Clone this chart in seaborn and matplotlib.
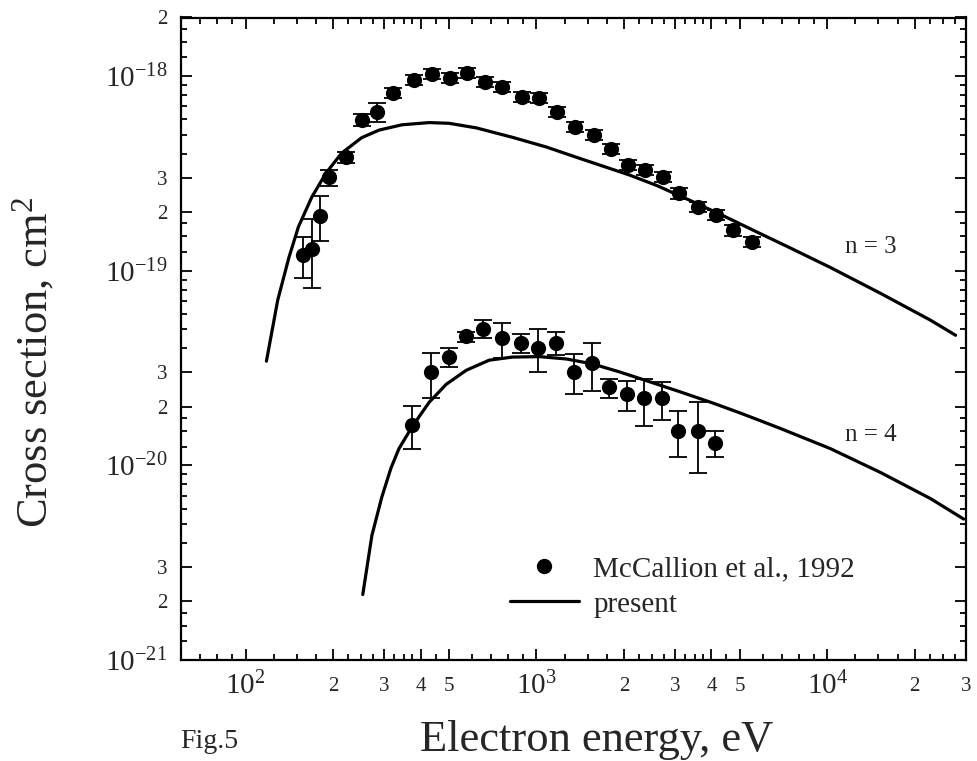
import numpy as np
import pandas as pd
import matplotlib
matplotlib.use("Agg")
import matplotlib.pyplot as plt
import seaborn as sns
from matplotlib.lines import Line2D
from matplotlib.ticker import FixedLocator, NullFormatter

# ---------------- data ----------------
# present theory, n = 3
n3_curve_energy = [118, 129, 141, 152, 169, 189, 214, 251, 288, 345, 428, 501, 621,
                   826, 1083, 1407, 2093, 2594, 3370, 4379, 5736, 7456, 10240, 15230,
                   22650, 27630]
n3_curve_sigma = [3.43e-20, 7.05e-20, 1.17e-19, 1.68e-19, 2.39e-19, 3.17e-19, 4.02e-19,
                  4.83e-19, 5.28e-19, 5.62e-19, 5.77e-19, 5.72e-19, 5.42e-19, 4.85e-19,
                  4.32e-19, 3.78e-19, 3.10e-19, 2.74e-19, 2.30e-19, 1.92e-19, 1.58e-19,
                  1.31e-19, 1.04e-19, 7.66e-20, 5.57e-20, 4.66e-20]

# present theory, n = 4
n4_curve_energy = [253, 272, 294, 316, 337, 374, 428, 490, 574, 688, 826, 1024, 1269,
                   1560, 1933, 2395, 3112, 4045, 5012, 6884, 10240, 15230, 22650, 29440]
n4_curve_sigma = [2.17e-21, 4.37e-21, 6.85e-21, 9.65e-21, 1.22e-20, 1.58e-20, 2.11e-20,
                  2.61e-20, 3.08e-20, 3.47e-20, 3.60e-20, 3.62e-20, 3.52e-20, 3.32e-20,
                  3.02e-20, 2.72e-20, 2.39e-20, 2.09e-20, 1.86e-20, 1.55e-20, 1.22e-20,
                  9.20e-21, 6.75e-21, 5.30e-21]

# McCallion et al., 1992 measurements, n = 3
n3_energy = [158, 169, 181, 193, 221, 251, 283, 321, 380, 438, 505, 578, 667, 763, 895,
             1024, 1181, 1363, 1573, 1800, 2060, 2357, 2720, 3088, 3592, 4142, 4742, 5512]
n3_sigma = [1.20e-19, 1.30e-19, 1.91e-19, 3.03e-19, 3.84e-19, 5.94e-19, 6.53e-19, 8.18e-19,
            9.54e-19, 1.024e-18, 9.76e-19, 1.036e-18, 9.32e-19, 8.78e-19, 7.80e-19,
            7.70e-19, 6.53e-19, 5.47e-19, 4.97e-19, 4.21e-19, 3.49e-19, 3.29e-19,
            3.03e-19, 2.50e-19, 2.12e-19, 1.93e-19, 1.61e-19, 1.40e-19]
n3_low = [9.15e-20, 8.13e-20, 1.42e-19, 2.72e-19, 3.57e-19, 5.53e-19, 5.80e-19, 7.70e-19,
          9.00e-19, 9.65e-19, 9.20e-19, 9.75e-19, 8.80e-19, 8.25e-19, 7.35e-19, 7.25e-19,
          6.15e-19, 5.15e-19, 4.68e-19, 3.96e-19, 3.28e-19, 3.10e-19, 2.85e-19, 2.35e-19,
          2.00e-19, 1.82e-19, 1.51e-19, 1.32e-19]
n3_high = [1.49e-19, 1.84e-19, 2.42e-19, 3.29e-19, 4.07e-19, 6.38e-19, 7.26e-19, 8.70e-19,
           1.01e-18, 1.085e-18, 1.035e-18, 1.10e-18, 9.90e-19, 9.30e-19, 8.25e-19, 8.15e-19,
           6.90e-19, 5.80e-19, 5.27e-19, 4.46e-19, 3.70e-19, 3.49e-19, 3.21e-19, 2.65e-19,
           2.25e-19, 2.05e-19, 1.71e-19, 1.49e-19]

# McCallion et al., 1992 measurements, n = 4
n4_energy = [373, 434, 501, 574, 657, 763, 888, 1016, 1172, 1342, 1549, 1772, 2043, 2337,
             2697, 3063, 3590, 4111]
n4_sigma = [1.61e-20, 3.00e-20, 3.59e-20, 4.60e-20, 5.00e-20, 4.50e-20, 4.24e-20, 4.00e-20,
            4.24e-20, 3.00e-20, 3.34e-20, 2.52e-20, 2.32e-20, 2.21e-20, 2.21e-20, 1.51e-20,
            1.51e-20, 1.30e-20]
n4_low = [1.21e-20, 2.21e-20, 3.19e-20, 4.29e-20, 4.50e-20, 3.55e-20, 3.77e-20, 3.00e-20,
          3.68e-20, 2.32e-20, 2.40e-20, 2.21e-20, 1.90e-20, 1.59e-20, 1.72e-20, 1.10e-20,
          9.10e-21, 1.10e-20]
n4_high = [2.01e-20, 3.77e-20, 4.00e-20, 4.83e-20, 5.57e-20, 5.37e-20, 4.72e-20, 5.00e-20,
           4.83e-20, 3.72e-20, 4.24e-20, 2.77e-20, 2.70e-20, 2.77e-20, 2.67e-20, 1.90e-20,
           2.11e-20, 1.51e-20]

# axis ticks / labels
x_major_ticks = [100, 200, 300, 400, 500, 1000, 2000, 3000, 4000, 5000, 10000, 20000, 30000]
x_major_labels = [r"$\mathregular{10^{2}}$", "2", "3", "4", "5", r"$\mathregular{10^{3}}$",
                  "2", "3", "4", "5", r"$\mathregular{10^{4}}$", "2", "3"]
y_major_ticks = [1e-21, 2e-21, 3e-21, 1e-20, 2e-20, 3e-20, 1e-19, 2e-19, 3e-19, 1e-18, 2e-18]
y_major_labels = [r"$\mathregular{10^{-21}}$", "2", "3", r"$\mathregular{10^{-20}}$", "2", "3",
                  r"$\mathregular{10^{-19}}$", "2", "3", r"$\mathregular{10^{-18}}$", "2"]
series_labels = ["McCallion et al., 1992", "present"]
curve_names = ["n = 3", "n = 4"]

# ---------------- style ----------------
sns.set_theme(style="ticks")
plt.rcParams["font.family"] = ["Liberation Serif", "DejaVu Serif"]
plt.rcParams["mathtext.fontset"] = "custom"
plt.rcParams["mathtext.rm"] = "Liberation Serif"
plt.rcParams["mathtext.it"] = "Liberation Serif:italic"
plt.rcParams["mathtext.bf"] = "Liberation Serif:bold"
plt.rcParams["axes.unicode_minus"] = False

fig = plt.figure(figsize=(9.78, 7.61), dpi=100)
L, R, T, B = 181, 966, 17.5, 660
ax = fig.add_axes([L / 978, 1 - B / 761, (R - L) / 978, (B - T) / 761])
ax.set_xscale("log")
ax.set_yscale("log")

curves = pd.concat([
    pd.DataFrame({"E": n3_curve_energy, "s": n3_curve_sigma, "n": "3"}),
    pd.DataFrame({"E": n4_curve_energy, "s": n4_curve_sigma, "n": "4"}),
])
for key, g in curves.groupby("n"):
    sns.lineplot(data=g, x="E", y="s", ax=ax, color="black", lw=2.3,
                 estimator=None, sort=False, legend=False)

for E, s, lo, hi in [(n3_energy, n3_sigma, n3_low, n3_high),
                     (n4_energy, n4_sigma, n4_low, n4_high)]:
    E = np.array(E); s = np.array(s); lo = np.array(lo); hi = np.array(hi)
    ax.errorbar(E, s, yerr=[s - lo, hi - s], fmt="none", ecolor="black",
                elinewidth=1.3, capsize=6.5, capthick=1.3, zorder=2)
    sns.scatterplot(x=E, y=s, ax=ax, color="black", s=120, linewidth=0,
                    zorder=3, legend=False)

ax.set_xlim(60, 30000)
ax.set_ylim(1e-21, 2e-18)
ax.set_xlabel("")
ax.set_ylabel("")

# ticks
ax.xaxis.set_major_locator(FixedLocator(x_major_ticks))
ax.set_xticklabels(x_major_labels)
xm = [60, 70, 80, 90]
for d in [100, 1000]:
    xm += [d * m for m in [1.25, 1.5, 1.75, 2.25, 2.5, 2.75, 3.25, 3.5, 3.75, 4.5, 6, 7, 8, 9]]
xm += [10000 * m for m in [1.25, 1.5, 1.75, 2.25, 2.5, 2.75]]
ax.xaxis.set_minor_locator(FixedLocator(xm))
ax.xaxis.set_minor_formatter(NullFormatter())

ax.yaxis.set_major_locator(FixedLocator(y_major_ticks))
ax.set_yticklabels(y_major_labels)
ym = []
for d in [1e-21, 1e-20, 1e-19]:
    ym += [d * m for m in [1.25, 1.5, 1.75, 4, 5, 6, 7, 8, 9]]
ym += [1e-18 * m for m in [1.25, 1.5, 1.75]]
ax.yaxis.set_minor_locator(FixedLocator(ym))
ax.yaxis.set_minor_formatter(NullFormatter())

ax.tick_params(which="both", direction="in", top=True, right=True, color="black", width=1.3)
ax.tick_params(which="major", length=8)
ax.tick_params(which="minor", length=4)
ax.tick_params(axis="x", which="major", pad=19)
ax.tick_params(axis="y", which="major", pad=10)
for sp in ax.spines.values():
    sp.set_linewidth(1.6)
    sp.set_color("black")

for t, lab in zip(ax.xaxis.get_major_ticks(), x_major_labels):
    t.label1.set_fontsize(21 if lab.startswith("$") else 15)
    t.label1.set_va("center")
for t, lab in zip(ax.yaxis.get_major_ticks(), y_major_labels):
    t.label1.set_fontsize(21 if lab.startswith("$") else 15)

# labels
ax.text(14070, 1.32e-19, curve_names[0], fontsize=18, ha="center", va="center")
ax.text(14070, 1.43e-20, curve_names[1], fontsize=18, ha="center", va="center")

handles = [Line2D([], [], marker="o", ls="none", color="black", markersize=10),
           Line2D([], [], color="black", lw=2.3)]
ax.legend(handles, series_labels, loc="upper left",
          bbox_to_anchor=((510 - L) / (R - L), (B - 556) / (B - T)),
          frameon=False, fontsize=21, handlelength=2.35, handletextpad=0.5,
          labelspacing=0.3, borderpad=0, borderaxespad=0)

fig.text(33 / 978, 1 - 362 / 761, "Cross section, cm$^{\\mathregular{2}}$", rotation=90,
         fontsize=32, ha="center", va="center")
fig.text(597 / 978, 1 - 740 / 761, "Electron energy, eV", fontsize=32, ha="center", va="center")
fig.text(180 / 978, 1 - 742 / 761, "Fig.5", fontsize=20, ha="left", va="center")

fig.savefig("out.png", dpi=100)
